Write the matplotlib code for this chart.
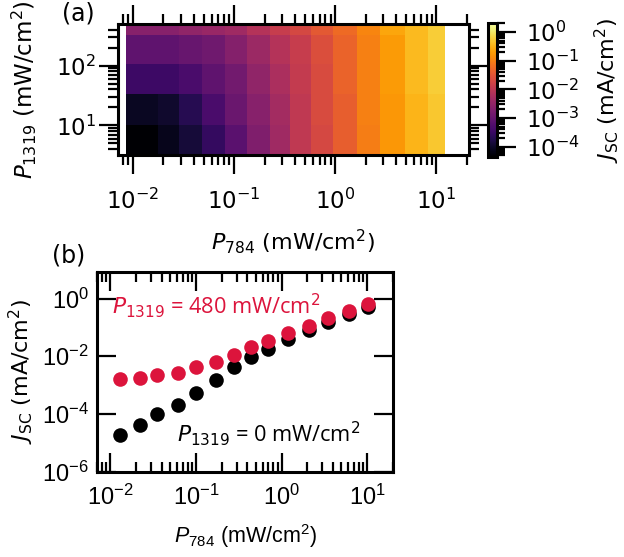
import matplotlib
matplotlib.use("Agg")
import matplotlib.pyplot as plt
import numpy as np
from matplotlib.colors import LogNorm
from matplotlib.ticker import FuncFormatter, LogLocator, NullFormatter, NullLocator

# 784 nm power (mW/cm^2), one value per column / point
p784 = [0.013, 0.022, 0.035, 0.062, 0.10, 0.17, 0.28, 0.44, 0.70, 1.2, 2.1, 3.5, 6.2, 10.2]
# 1319 nm power rows of the map (mW/cm^2)
p1319 = [4, 16, 52, 158, 480]

# log10 of Jsc (mA/cm^2), rows follow p1319
log_jsc_map = [
    [-4.60, -4.12, -3.88, -3.56, -3.14, -2.72, -2.35, -1.97, -1.69, -1.37, -1.04, -0.76, -0.48, -0.30],
    [-4.07, -3.98, -3.70, -3.32, -2.95, -2.63, -2.30, -1.97, -1.65, -1.37, -0.99, -0.76, -0.48, -0.30],
    [-3.46, -3.46, -3.32, -3.09, -2.86, -2.53, -2.21, -1.93, -1.65, -1.32, -0.99, -0.72, -0.44, -0.25],
    [-3.09, -3.09, -3.00, -2.91, -2.67, -2.39, -2.11, -1.88, -1.60, -1.32, -0.99, -0.72, -0.44, -0.25],
    [-2.63, -2.63, -2.53, -2.44, -2.35, -2.11, -1.88, -1.69, -1.46, -1.23, -0.95, -0.62, -0.44, -0.25],
]

# line cuts, Jsc in mA/cm^2
jsc_dark = [1.8e-5, 4.1e-5, 9.8e-5, 2.1e-4, 5.4e-4, 1.55e-3, 4.3e-3, 9.5e-3, 1.86e-2, 4.1e-2, 7.9e-2, 0.155, 0.30, 0.51]
jsc_480 = [1.7e-3, 1.8e-3, 2.2e-3, 2.6e-3, 4.1e-3, 6.3e-3, 1.15e-2, 2.1e-2, 3.4e-2, 6.6e-2, 0.11, 0.21, 0.37, 0.63]

bottom_xticks = [1e-2, 1e-1, 1e0, 1e1]
bottom_yticks = [1e-6, 1e-4, 1e-2, 1e0]

plt.rcParams["font.family"] = "DejaVu Sans"
plt.rcParams["font.size"] = 16
plt.rcParams["mathtext.fontset"] = "custom"
plt.rcParams["mathtext.rm"] = "Liberation Sans"
plt.rcParams["mathtext.it"] = "Liberation Sans:italic"

RED = "#DC143C"
LW = 2.2


def cell_edges(c):
    c = np.asarray(c, float)
    mid = (c[:-1] + c[1:]) / 2
    first = max(c[0] - (mid[0] - c[0]), c[0] / 2)
    last = c[-1] + (c[-1] - mid[-1])
    return np.concatenate([[first], mid, [last]])


def style_ticks(ax, direction):
    for s in ax.spines.values():
        s.set_linewidth(LW)
    ax.tick_params(which="both", direction=direction, top=True, right=True, width=1.6)
    ax.tick_params(which="major", length=14)
    ax.tick_params(which="minor", length=7)


fig = plt.figure(figsize=(6.24, 5.57), dpi=100)

# (a) map
ax1 = fig.add_axes([0.189, 0.7217, 0.5625, 0.2347])
jsc_map = 10 ** np.array(log_jsc_map)
mesh = ax1.pcolormesh(cell_edges(p784), cell_edges(p1319), jsc_map, cmap="inferno",
                      norm=LogNorm(vmin=4.5e-5, vmax=2.0), shading="flat")
ax1.set_xscale("log")
ax1.set_yscale("log")
ax1.set_xlim(0.0071, 21)
ax1.set_ylim(3.2, 490)
ax1.xaxis.set_minor_locator(LogLocator(subs=np.arange(2, 10)))
ax1.yaxis.set_minor_locator(LogLocator(subs=np.arange(2, 10)))
ax1.xaxis.set_minor_formatter(NullFormatter())
ax1.yaxis.set_minor_formatter(NullFormatter())
style_ticks(ax1, "out")
ax1.tick_params(axis="both", labelsize=16.5)
ax1.tick_params(axis="x", pad=10)
ax1.tick_params(axis="y", pad=2)
ax1.set_xlabel(r"$P_{784}$ (mW/cm$^2$)", math_fontfamily="dejavusans", labelpad=10)
ax1.set_ylabel(r"$P_{1319}$ (mW/cm$^2$)", math_fontfamily="dejavusans", labelpad=12,
               fontsize=16.5)
fig.text(0.099, 0.975, "(a)", ha="left", va="center", fontsize=17)

cax = fig.add_axes([0.782, 0.7187, 0.0144, 0.2395])
cbar = fig.colorbar(mesh, cax=cax)
cbar.outline.set_linewidth(LW)
cbar.ax.yaxis.set_major_locator(LogLocator(numticks=10))
cbar.ax.yaxis.set_minor_locator(LogLocator(subs=np.arange(2, 10), numticks=10))
cbar.ax.yaxis.set_minor_formatter(NullFormatter())
cbar.ax.tick_params(which="both", direction="out", width=1.6, labelsize=16.5)
cbar.ax.tick_params(which="major", length=14, pad=7)
cbar.ax.tick_params(which="minor", length=6)
cbar.set_label(r"$J_{\mathrm{SC}}$ (mA/cm$^2$)", math_fontfamily="dejavusans", labelpad=9)

# (b) line cuts
ax2 = fig.add_axes([0.1554, 0.1531, 0.4744, 0.359])
ax2.plot(p784, jsc_dark, "o", color="black", ms=10.5, mec="none")
ax2.plot(p784, jsc_480, "o", color=RED, ms=10.5, mec="none")
ax2.set_xscale("log")
ax2.set_yscale("log")
ax2.set_xlim(0.007, 20)
ax2.set_ylim(1e-6, 8.5)
ax2.set_xticks(bottom_xticks)
ax2.set_yticks(bottom_yticks)
pow_fmt = FuncFormatter(lambda v, pos: r"$10^{%d}$" % round(np.log10(v)))
ax2.xaxis.set_major_formatter(pow_fmt)
ax2.yaxis.set_major_formatter(pow_fmt)
ax2.yaxis.set_minor_locator(NullLocator())
ax2.xaxis.set_minor_locator(LogLocator(subs=np.arange(2, 10)))
ax2.xaxis.set_minor_formatter(NullFormatter())
style_ticks(ax2, "in")
ax2.tick_params(axis="both", labelsize=17)
ax2.tick_params(axis="x", pad=9)
ax2.tick_params(axis="y", pad=6)
for lbl in ax2.get_xticklabels() + ax2.get_yticklabels():
    lbl.set_math_fontfamily("custom")
ax2.set_xlabel(r"$P_{784}$ (mW/cm$^2$)", fontfamily="Liberation Sans",
               math_fontfamily="custom", fontsize=15.5, labelpad=9)
ax2.set_ylabel(r"$J_{\mathrm{SC}}$ (mA/cm$^2$)", math_fontfamily="dejavusans", labelpad=4)
ax2.text(0.05, 0.83, r"$P_{1319}$ = 480 mW/cm$^2$", transform=ax2.transAxes, color=RED,
         fontfamily="Open Sans", fontsize=15.7, math_fontfamily="dejavusans", va="center")
ax2.text(0.27, 0.19, r"$P_{1319}$ = 0 mW/cm$^2$", transform=ax2.transAxes, color="black",
         fontfamily="Open Sans", fontsize=15.7, math_fontfamily="dejavusans", va="center")
fig.text(0.083, 0.542, "(b)", ha="left", va="center", fontsize=17)

fig.savefig("out.png", dpi=100)
